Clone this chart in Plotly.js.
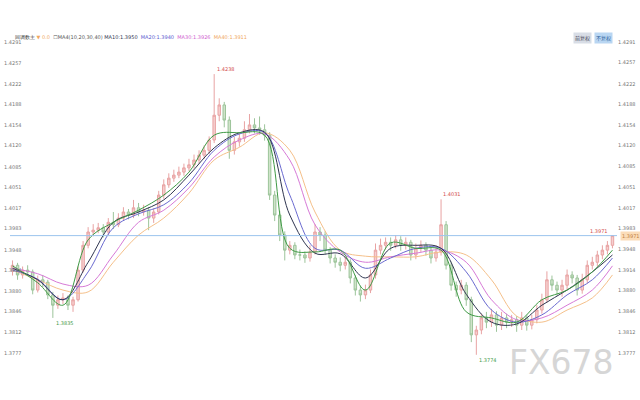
<!DOCTYPE html>
<html><head><meta charset="utf-8">
<script src="https://cdn.plot.ly/plotly-3.0.1.min.js"></script>
<style>html,body{margin:0;padding:0;background:#fff}#c{width:640px;height:400px}</style>
</head><body><div id="c"></div>
<script>
const openP = [1.3912,1.3922,1.3906,1.3914,1.3911,1.3881,1.3898,1.3894,1.3873,1.3856,1.3865,1.3868,1.3856,1.3865,1.3914,1.3955,1.3977,1.3980,1.3984,1.3977,1.3993,1.3989,1.4000,1.4010,1.4005,1.4017,1.4010,1.4013,1.4000,1.4010,1.4038,1.4055,1.4066,1.4071,1.4076,1.4083,1.4088,1.4096,1.4104,1.4112,1.4129,1.4170,1.4187,1.4162,1.4112,1.4126,1.4132,1.4146,1.4154,1.4149,1.4146,1.4137,1.4038,1.4005,1.3972,1.3947,1.3955,1.3939,1.3939,1.3934,1.3944,1.3977,1.3972,1.3947,1.3934,1.3927,1.3922,1.3927,1.3901,1.3881,1.3873,1.3881,1.3906,1.3947,1.3955,1.3960,1.3955,1.3964,1.3955,1.3960,1.3939,1.3950,1.3955,1.3947,1.3934,1.3944,1.3989,1.3922,1.3889,1.3881,1.3889,1.3865,1.3807,1.3815,1.3835,1.3828,1.3840,1.3823,1.3835,1.3828,1.3832,1.3823,1.3835,1.3823,1.3832,1.3848,1.3865,1.3898,1.3889,1.3881,1.3889,1.3906,1.3901,1.3881,1.3898,1.3922,1.3927,1.3939,1.3947,1.3955];
const highP = [1.3930,1.3926,1.3920,1.3922,1.3915,1.3905,1.3906,1.3898,1.3878,1.3872,1.3876,1.3872,1.3870,1.3920,1.3962,1.3985,1.3990,1.3992,1.3990,1.4000,1.4010,1.4008,1.4018,1.4015,1.4030,1.4025,1.4022,1.4018,1.4016,1.4045,1.4064,1.4074,1.4080,1.4085,1.4090,1.4098,1.4105,1.4112,1.4120,1.4135,1.4238,1.4198,1.4192,1.4168,1.4134,1.4140,1.4160,1.4172,1.4165,1.4168,1.4155,1.4142,1.4045,1.4012,1.3978,1.3962,1.3960,1.3948,1.3945,1.3955,1.3990,1.3985,1.3978,1.3952,1.3940,1.3935,1.3936,1.3932,1.3906,1.3888,1.3890,1.3915,1.3958,1.3966,1.3968,1.3968,1.3972,1.3970,1.3968,1.3964,1.3958,1.3963,1.3960,1.3952,1.3955,1.4031,1.3995,1.3928,1.3895,1.3898,1.3894,1.3870,1.3822,1.3842,1.3845,1.3850,1.3846,1.3845,1.3842,1.3840,1.3838,1.3845,1.3840,1.3840,1.3856,1.3875,1.3912,1.3905,1.3895,1.3898,1.3915,1.3912,1.3906,1.3908,1.3930,1.3936,1.3946,1.3955,1.3962,1.3971];
const lowP = [1.3905,1.3898,1.3900,1.3904,1.3874,1.3877,1.3886,1.3866,1.3835,1.3850,1.3858,1.3848,1.3845,1.3862,1.3910,1.3950,1.3970,1.3975,1.3968,1.3972,1.3982,1.3985,1.3996,1.3998,1.4000,1.4003,1.4004,1.3980,1.3992,1.4006,1.4032,1.4050,1.4060,1.4066,1.4070,1.4078,1.4082,1.4090,1.4098,1.4106,1.4124,1.4160,1.4150,1.4098,1.4105,1.4118,1.4126,1.4140,1.4140,1.4138,1.4128,1.4030,1.3995,1.3962,1.3930,1.3940,1.3932,1.3930,1.3926,1.3928,1.3940,1.3962,1.3940,1.3925,1.3918,1.3912,1.3915,1.3892,1.3872,1.3862,1.3866,1.3876,1.3900,1.3940,1.3948,1.3946,1.3950,1.3946,1.3948,1.3930,1.3932,1.3944,1.3938,1.3925,1.3928,1.3938,1.3915,1.3880,1.3870,1.3874,1.3855,1.3795,1.3774,1.3808,1.3818,1.3820,1.3812,1.3815,1.3818,1.3820,1.3812,1.3815,1.3814,1.3816,1.3826,1.3842,1.3860,1.3880,1.3872,1.3870,1.3882,1.3892,1.3872,1.3875,1.3892,1.3915,1.3920,1.3932,1.3940,1.3950];
const closeP = [1.3922,1.3906,1.3914,1.3911,1.3881,1.3898,1.3894,1.3873,1.3856,1.3865,1.3868,1.3856,1.3865,1.3914,1.3955,1.3977,1.3980,1.3984,1.3977,1.3993,1.3989,1.4000,1.4010,1.4005,1.4017,1.4010,1.4013,1.4000,1.4010,1.4038,1.4055,1.4066,1.4071,1.4076,1.4083,1.4088,1.4096,1.4104,1.4112,1.4129,1.4170,1.4187,1.4162,1.4112,1.4126,1.4132,1.4146,1.4154,1.4149,1.4146,1.4137,1.4038,1.4005,1.3972,1.3947,1.3955,1.3939,1.3939,1.3934,1.3944,1.3977,1.3972,1.3947,1.3934,1.3927,1.3922,1.3927,1.3901,1.3881,1.3873,1.3881,1.3906,1.3947,1.3955,1.3960,1.3955,1.3964,1.3955,1.3960,1.3939,1.3950,1.3955,1.3947,1.3934,1.3944,1.3989,1.3922,1.3889,1.3881,1.3889,1.3865,1.3807,1.3815,1.3835,1.3828,1.3840,1.3823,1.3835,1.3828,1.3832,1.3823,1.3835,1.3823,1.3832,1.3848,1.3865,1.3898,1.3889,1.3881,1.3889,1.3906,1.3901,1.3881,1.3898,1.3922,1.3927,1.3939,1.3947,1.3955,1.3971];

const maIdx = [0,5,10,15,20,25,30,35,40,45,50,55,60,65,70,75,80,85,90,95,100,105,110,115,119];
const maFast = [1.3921,1.3893,1.3856,1.3964,1.3993,1.4013,1.4038,1.4076,1.4137,1.4141,1.4137,1.3950,1.3944,1.3947,1.3881,1.3959,1.3950,1.3947,1.3845,1.3835,1.3828,1.3865,1.3881,1.3911,1.3947];
const ma10 = [1.3917,1.3898,1.3865,1.3927,1.3993,1.4010,1.4030,1.4071,1.4116,1.4141,1.4142,1.4005,1.3942,1.3941,1.3901,1.3950,1.3955,1.3950,1.3874,1.3828,1.3825,1.3856,1.3881,1.3911,1.3939];
const ma20 = [1.3914,1.3899,1.3865,1.3911,1.3984,1.4007,1.4022,1.4058,1.4112,1.4139,1.4141,1.4038,1.3950,1.3947,1.3917,1.3934,1.3950,1.3950,1.3911,1.3848,1.3828,1.3840,1.3873,1.3898,1.3934];
const ma30 = [1.3917,1.3908,1.3891,1.3889,1.3939,1.3993,1.4013,1.4050,1.4101,1.4129,1.4139,1.4096,1.3989,1.3944,1.3927,1.3936,1.3942,1.3947,1.3927,1.3865,1.3832,1.3835,1.3856,1.3881,1.3921];
const ma40 = [1.3914,1.3898,1.3881,1.3878,1.3927,1.3972,1.4000,1.4041,1.4096,1.4117,1.4141,1.4112,1.4010,1.3947,1.3937,1.3936,1.3936,1.3944,1.3939,1.3898,1.3838,1.3828,1.3848,1.3868,1.3906];

const tickVals = [1.4291,1.4257,1.4222,1.4188,1.4154,1.4120,1.4085,1.4051,1.4017,1.3983,1.3948,1.3914,1.3880,1.3846,1.3812,1.3777];
const tickText = ["1.4291","1.4257","1.4222","1.4188","1.4154","1.4120","1.4085","1.4051","1.4017","1.3983","1.3948","1.3914","1.3880","1.3846","1.3812","1.3777"];
const lastPrice = 1.3971;

const xs = closeP.map((_, i) => i);
const yRange = [1.37522, 1.42993];

const traces = [
  {type:'candlestick', x:xs, open:openP, high:highP, low:lowP, close:closeP,
   increasing:{line:{color:'#e8a3a3', width:1}, fillcolor:'#f6cfcf'},
   decreasing:{line:{color:'#9cc49a', width:1}, fillcolor:'#cfe3c9'},
   whiskerwidth:0, hoverinfo:'skip', showlegend:false},
  {type:'scatter', mode:'lines', x:maIdx, y:ma40, line:{color:'#f5c08a', width:1, shape:'spline'}, hoverinfo:'skip', showlegend:false},
  {type:'scatter', mode:'lines', x:maIdx, y:ma30, line:{color:'#d77ad7', width:1, shape:'spline'}, hoverinfo:'skip', showlegend:false},
  {type:'scatter', mode:'lines', x:maIdx, y:ma20, line:{color:'#6a6ad0', width:1, shape:'spline'}, hoverinfo:'skip', showlegend:false},
  {type:'scatter', mode:'lines', x:maIdx, y:ma10, line:{color:'#2f3550', width:1, shape:'spline'}, hoverinfo:'skip', showlegend:false},
  {type:'scatter', mode:'lines', x:maIdx, y:maFast, line:{color:'#3f9a45', width:1, shape:'spline'}, hoverinfo:'skip', showlegend:false}
];

const annotations = [
  {x:40, y:highP[40], text:'1.4238', showarrow:false, xanchor:'left', yanchor:'bottom', xshift:1, font:{family:'DejaVu Sans', size:5, color:'#d24a4a'}},
  {x:8, y:lowP[8], text:'1.3835', showarrow:false, xanchor:'left', yanchor:'top', xshift:1, font:{family:'DejaVu Sans', size:5, color:'#3f9a45'}},
  {x:85, y:highP[85], text:'1.4031', showarrow:false, xanchor:'left', yanchor:'bottom', xshift:0, font:{family:'DejaVu Sans', size:5, color:'#d24a4a'}},
  {x:92, y:lowP[92], text:'1.3774', showarrow:false, xanchor:'left', yanchor:'top', xshift:1, font:{family:'DejaVu Sans', size:5, color:'#3f9a45'}},
  {x:119, y:highP[119], text:'1.3971', showarrow:false, xanchor:'right', yanchor:'bottom', xshift:-2, font:{family:'DejaVu Sans', size:5, color:'#d24a4a'}},
  {xref:'paper', yref:'y', x:1, y:lastPrice, text:'1.3971', showarrow:false, xanchor:'left', xshift:3, bgcolor:'#fbdcb8', font:{family:'DejaVu Sans', size:5, color:'#c08040'}},
  {xref:'paper', yref:'paper', x:0.005, y:1.0, yanchor:'middle', xanchor:'left', showarrow:false,
   text:'<span style="color:#333">回调数主</span> <span style="color:#f0a860">▼ 0.0</span>  <span style="color:#555">☐MA4(10,20,30,40)</span> <span style="color:#2f3550">MA10:1.3950</span>  <span style="color:#5a5ad0">MA20:1.3940</span>  <span style="color:#d060d0">MA30:1.3926</span>  <span style="color:#f0a860">MA40:1.3911</span>',
   font:{family:'DejaVu Sans', size:5, color:'#333'}},
  {xref:'paper', yref:'paper', x:0.958, y:0.998, yanchor:'middle', xanchor:'right', showarrow:false, text:'前复权', bgcolor:'#d8dde6', font:{family:'Noto Sans CJK SC', size:5, color:'#445'}},
  {xref:'paper', yref:'paper', x:0.962, y:0.998, yanchor:'middle', xanchor:'left', showarrow:false, text:'不复权', bgcolor:'#b9d6f2', font:{family:'Noto Sans CJK SC', size:5, color:'#2a5d9a'}},
  {xref:'paper', yref:'paper', x:0.908, y:0.018, xanchor:'center', yanchor:'middle', showarrow:false, text:'FX678', font:{family:'DejaVu Sans', size:33, color:'#d6d6d6'}}
];
// left-side price labels (same values as the right axis)
tickVals.forEach((v, k) => {
  annotations.push({xref:'paper', yref:'y', x:-0.013, y:v, text:tickText[k], showarrow:false, xanchor:'left', yanchor:'middle',
                    font:{family:'DejaVu Sans', size:5, color:'#777'}});
});

const layout = {
  width:640, height:400,
  margin:{l:10, r:23, t:37, b:32},
  paper_bgcolor:'#fff', plot_bgcolor:'#fff',
  showlegend:false,
  xaxis:{range:[-0.5, 119.9], showgrid:false, zeroline:false, showticklabels:false, ticks:'', showline:false, rangeslider:{visible:false}, fixedrange:true},
  yaxis:{range:yRange, side:'right', tickvals:tickVals, ticktext:tickText, showgrid:false, zeroline:false, ticks:'', showline:false,
         tickfont:{family:'DejaVu Sans', size:5, color:'#777'}, fixedrange:true},
  shapes:[
    {type:'line', xref:'paper', yref:'y', x0:0, x1:1, y0:lastPrice, y1:lastPrice, line:{color:'#9cc4ee', width:1}}
  ],
  annotations:annotations
};

Plotly.newPlot('c', traces, layout, {displayModeBar:false, staticPlot:true});
</script>
</body></html>
